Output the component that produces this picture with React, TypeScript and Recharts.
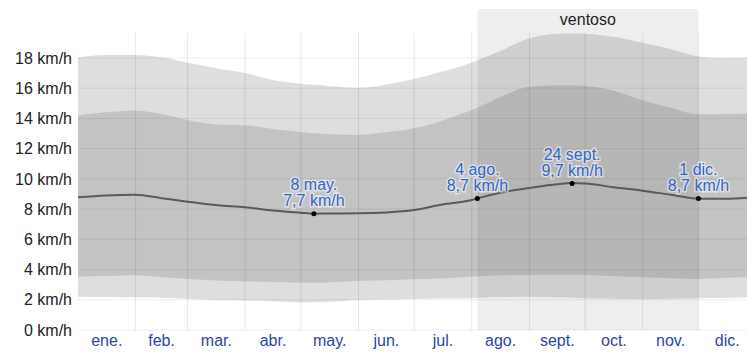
import {
	ComposedChart,
	Area,
	Line,
	XAxis,
	YAxis,
	ReferenceLine,
	ReferenceArea,
	ReferenceDot,
} from 'recharts';

// day of year (0 = 1 Jan)
const days = [0, 15, 31, 45, 59, 75, 90, 105, 120, 127, 135, 151, 166, 181, 196, 212, 215, 228, 243, 258, 266, 273, 288, 304, 319, 334, 349, 365];
const p90 = [18.05, 18.2, 18.2, 18.05, 17.7, 17.3, 17.0, 16.55, 16.3, 16.22, 16.15, 16.03, 16.25, 16.6, 17.1, 17.7, 17.85, 18.5, 19.3, 19.6, 19.62, 19.6, 19.4, 19.0, 18.6, 18.1, 18.0, 18.05];
const p75 = [14.2, 14.4, 14.5, 14.3, 13.9, 13.6, 13.55, 13.3, 13.1, 13.02, 12.95, 12.9, 13.1, 13.35, 13.85, 14.55, 14.7, 15.45, 16.1, 16.2, 16.2, 16.15, 15.85, 15.2, 14.7, 14.27, 14.3, 14.35];
const p25 = [3.53, 3.58, 3.62, 3.5, 3.38, 3.28, 3.22, 3.17, 3.13, 3.12, 3.15, 3.26, 3.3, 3.35, 3.43, 3.53, 3.55, 3.62, 3.64, 3.65, 3.65, 3.64, 3.58, 3.49, 3.43, 3.37, 3.45, 3.53];
const p10 = [2.2, 2.18, 2.16, 2.14, 2.05, 1.98, 1.96, 1.9, 1.83, 1.84, 1.87, 1.99, 2.02, 2.05, 2.08, 2.1, 2.12, 2.18, 2.2, 2.16, 2.13, 2.1, 2.06, 2.03, 2.06, 2.1, 2.13, 2.16];
const mean = [8.78, 8.9, 8.95, 8.72, 8.49, 8.25, 8.12, 7.9, 7.76, 7.7, 7.71, 7.72, 7.78, 7.94, 8.3, 8.6, 8.71, 9.1, 9.4, 9.65, 9.72, 9.7, 9.45, 9.22, 8.95, 8.69, 8.69, 8.8];

const monthStarts = [0, 31, 59, 90, 120, 151, 181, 212, 243, 273, 304, 334, 365];
const monthLabels = ['ene.', 'feb.', 'mar.', 'abr.', 'may.', 'jun.', 'jul.', 'ago.', 'sept.', 'oct.', 'nov.', 'dic.'];
const yTicks = [0, 2, 4, 6, 8, 10, 12, 14, 16, 18];

const windySeason = { from: 215, to: 334, label: 'ventoso' };

const annotations = [
	{ day: 127, value: 7.7, date: '8 may.', text: '7,7 km/h' },
	{ day: 215, value: 8.7, date: '4 ago.', text: '8,7 km/h' },
	{ day: 266, value: 9.7, date: '24 sept.', text: '9,7 km/h' },
	{ day: 334, value: 8.7, date: '1 dic.', text: '8,7 km/h' },
];

const data = days.map((day, i) => ({
	day,
	outer: [p10[i], p90[i]],
	inner: [p25[i], p75[i]],
	mean: mean[i],
}));

const monthMids = monthLabels.map((_, i) => (monthStarts[i] + monthStarts[i + 1]) / 2);

const font = '"Liberation Sans", Arial, sans-serif';

const AnnotationMark = ({ cx, cy, a }: any) => (
	<g>
		<circle cx={cx} cy={cy} r={2.5} fill='#000' />
		<text
			x={cx}
			textAnchor='middle'
			fontFamily={font}
			fontSize={16}
			fill='#3366cc'
			stroke='#fff'
			strokeWidth={3}
			strokeOpacity={0.5}
			paintOrder='stroke'
		>
			<tspan x={cx} y={cy - 23.5}>{a.date}</tspan>
			<tspan x={cx} y={cy - 7.5}>{a.text}</tspan>
		</text>
	</g>
);

export default function App() {
	return (
		<div style={{ position: 'absolute', left: 0, top: 0, width: 747, height: 352, overflow: 'hidden', background: '#fff' }}>
			<ComposedChart
				width={760}
				height={352}
				data={data}
				margin={{ top: 9, right: 4, left: 0, bottom: 2 }}
			>
				<XAxis
					dataKey='day'
					type='number'
					domain={[0, 365]}
					ticks={monthMids}
					tickFormatter={(_v: number, i: number) => monthLabels[i]}
					interval={0}
					axisLine={false}
					tickLine={false}
					tickSize={3}
					tickMargin={2}
					height={20}
					tick={{ fill: '#2e45a8', fontSize: 16, fontFamily: font }}
				/>
				<YAxis
					type='number'
					domain={[0, 21.24]}
					ticks={yTicks}
					tickFormatter={(v: number) => `${v} km/h`}
					interval={0}
					axisLine={false}
					tickLine={false}
					tickSize={4}
					tickMargin={2}
					width={78}
					tick={{ fill: '#222', fontSize: 16, fontFamily: font }}
				/>
				<Area
					dataKey='outer'
					type='monotone'
					stroke='none'
					fill='#dedede'
					fillOpacity={1}
					isAnimationActive={false}
				/>
				<Area
					dataKey='inner'
					type='monotone'
					stroke='none'
					fill='#c3c3c3'
					fillOpacity={1}
					isAnimationActive={false}
				/>
				{yTicks.map((t) => (
					<ReferenceLine key={`h${t}`} y={t} stroke='#000' strokeOpacity={0.07} strokeWidth={1} />
				))}
				{monthStarts.slice(1, 12).map((d) => (
					<ReferenceLine
						key={`v${d}`}
						segment={[{ x: d, y: 0 }, { x: d, y: 19.69 }]}
						stroke='#000'
						strokeOpacity={0.09}
						strokeWidth={1}
					/>
				))}
				<ReferenceArea
					x1={windySeason.from}
					x2={windySeason.to}
					y1={0}
					y2={21.24}
					fill='#000'
					fillOpacity={0.067}
					stroke='none'
					label={{
						value: windySeason.label,
						position: 'insideTop',
						offset: 5,
						fill: '#222',
						fontSize: 16,
						fontFamily: font,
					}}
				/>
				<Line
					dataKey='mean'
					type='monotone'
					stroke='#5a5a5a'
					strokeWidth={2}
					dot={false}
					activeDot={false}
					isAnimationActive={false}
				/>
				{annotations.map((a) => (
					<ReferenceDot
						key={a.date}
						x={a.day}
						y={a.value}
						r={2.5}
						shape={(p: any) => <AnnotationMark cx={p.cx} cy={p.cy} a={a} />}
					/>
				))}
			</ComposedChart>
		</div>
	);
}
